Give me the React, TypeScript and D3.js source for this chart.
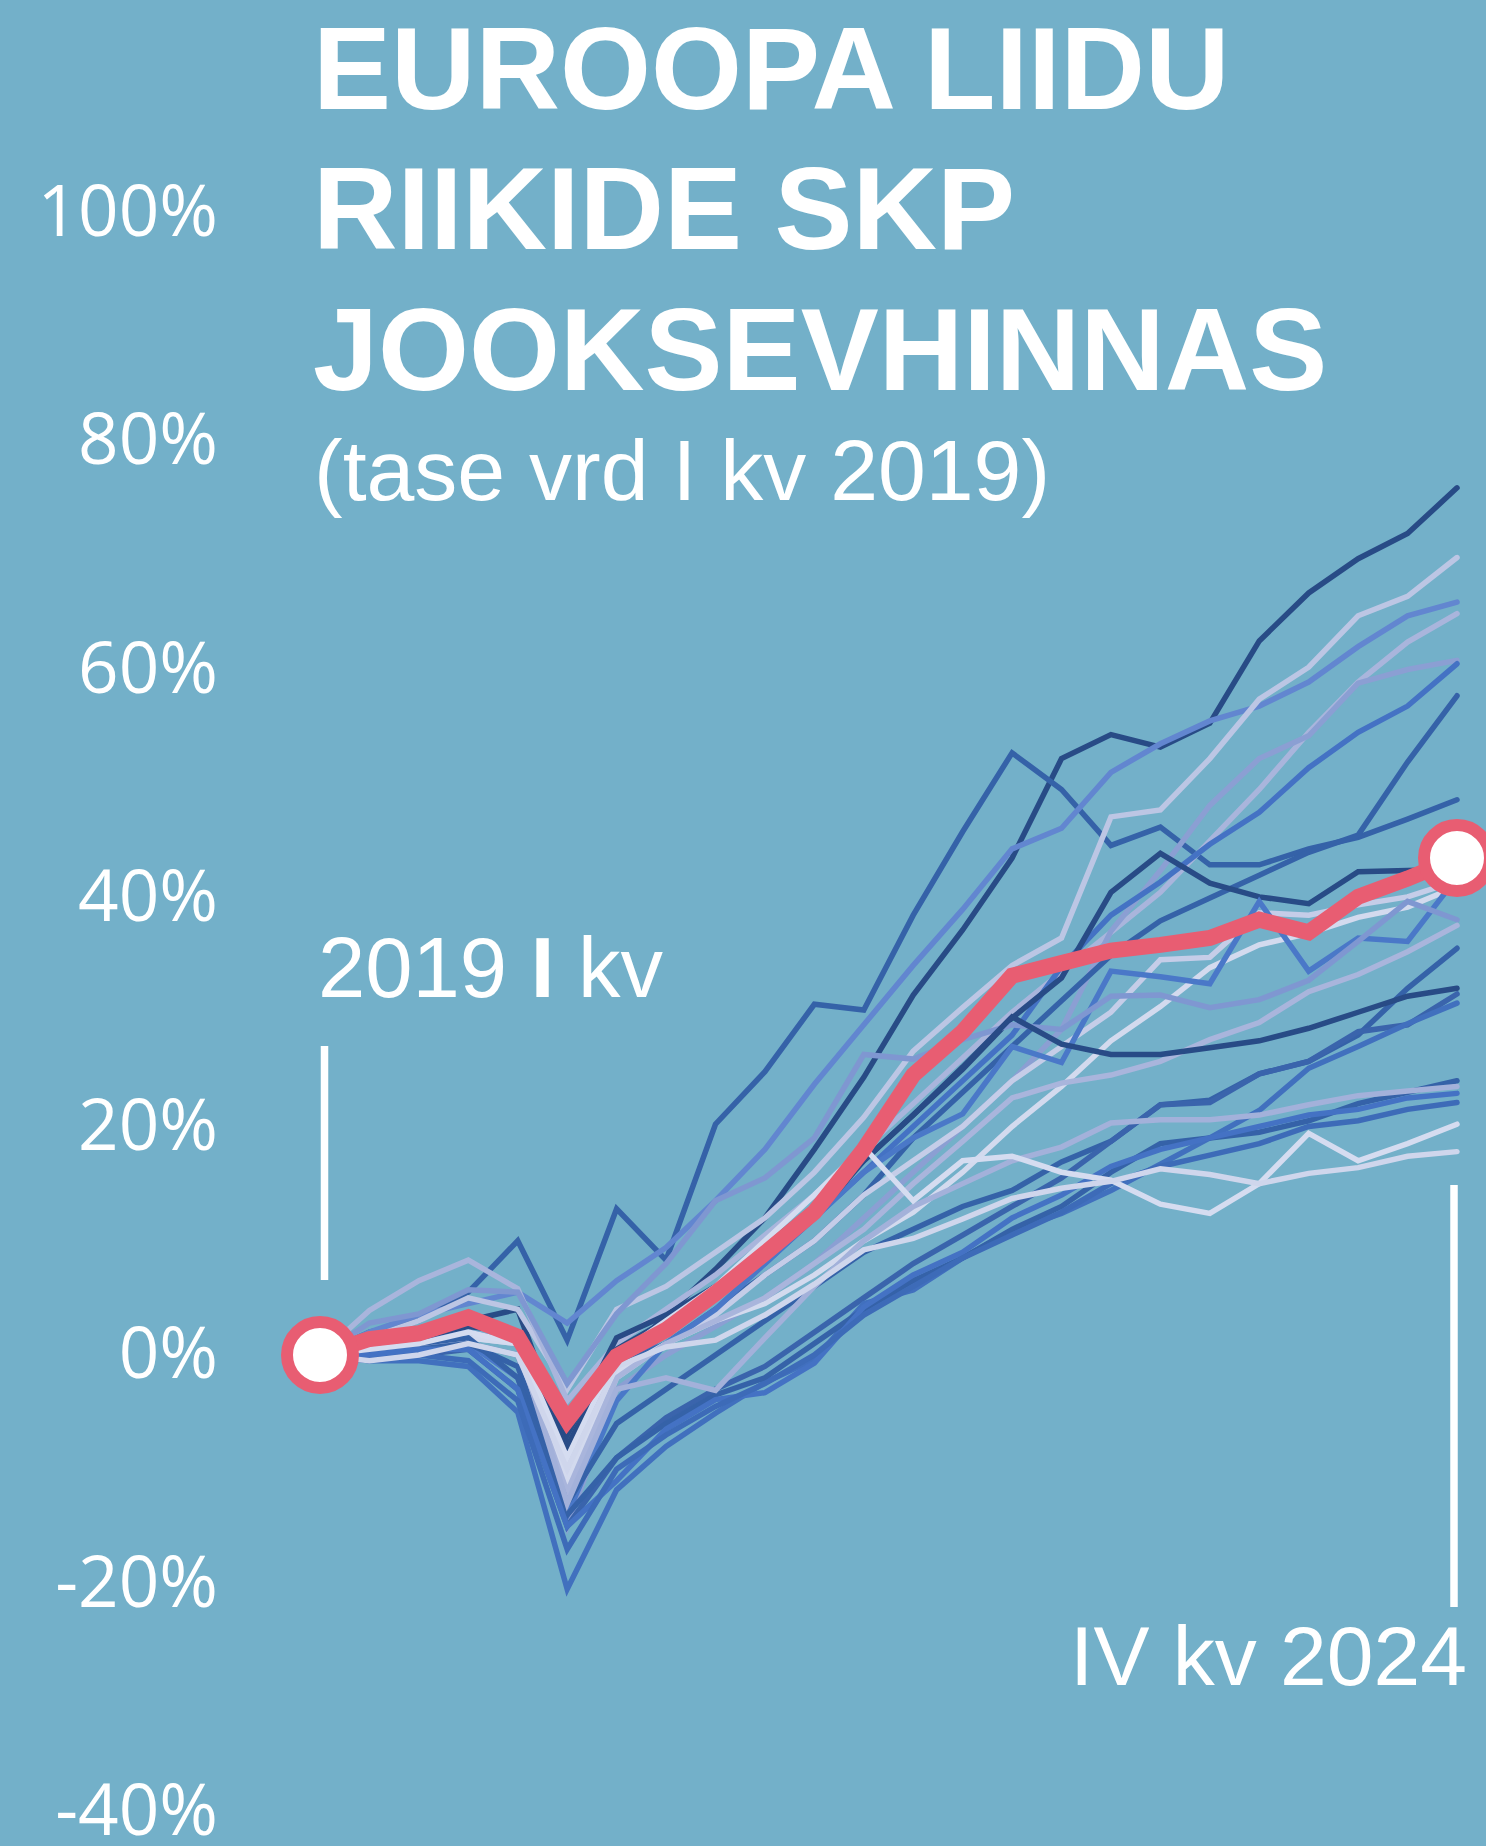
import React from "react";
import * as d3 from "d3";

const quarters: string[] = [
  "2019Q1","2019Q2","2019Q3","2019Q4","2020Q1","2020Q2","2020Q3","2020Q4",
  "2021Q1","2021Q2","2021Q3","2021Q4","2022Q1","2022Q2","2022Q3","2022Q4",
  "2023Q1","2023Q2","2023Q3","2023Q4","2024Q1","2024Q2","2024Q3","2024Q4",
];

const yTicks: number[] = [-40, -20, 0, 20, 40, 60, 80, 100];

// highlighted country
const highlight: number[] = [0, 1.4, 1.9, 3.3, 1.6, -5.7, -0.1, 2.2, 5.4, 8.9, 12.5, 18.0, 24.5, 28.3, 33.2, 34.3, 35.4, 35.9, 36.5, 38.1, 37.0, 40.1, 41.7, 43.5];

// other EU countries
const s01: number[] = [0, 1, 1.5, 3, 4, -8, -1, 3.5, 7.5, 12, 18, 24.3, 31.5, 37.2, 43.5, 52.2, 54.3, 53.2, 55.3, 62.5, 66.7, 69.7, 71.9, 75.9];
const s02: number[] = [0, 2, 3, 5.5, 10, 1.3, 12.8, 8.3, 20.2, 24.8, 30.7, 30.2, 38.5, 45.8, 52.7, 49.5, 44.6, 46.2, 42.9, 42.9, 44.3, 45.3, 46.9, 48.6];
const s03: number[] = [0, 2, 3.5, 4.5, 5.5, 2.8, 6.5, 9.4, 13.5, 18, 23.7, 28.9, 34.1, 39, 44.3, 46.1, 51.0, 53.5, 55.5, 56.8, 58.9, 62.0, 64.7, 65.9];
const s04: number[] = [0, 1.5, 3, 5, 4, -3, 4, 6, 9, 12, 16, 20.8, 26.6, 30.4, 34.1, 36.5, 47.1, 47.7, 52.2, 57.4, 60.2, 64.7, 66.4, 69.8];
const s05: number[] = [0, 3.9, 6.5, 8.3, 5.8, -4, 1, 4, 7, 10.5, 14, 18, 22, 26, 30, 33.5, 37, 40.5, 45.0, 49.5, 54.5, 58.9, 62.4, 64.9];
const s06: number[] = [0, 0, 0.5, 1, -2, -15, -3, 0, 2.5, 5, 8, 12, 16, 20, 24, 28.5, 37.1, 42.4, 48.1, 52.2, 54.2, 58.8, 60.0, 60.8];
const s07: number[] = [0, 1, 1.5, 2, 1, -10, -2, 2, 5, 8, 12, 16, 20, 24, 28, 34, 38.5, 41.4, 44.7, 47.5, 51.4, 54.5, 56.8, 60.5];
const s08: number[] = [0, 0, 0.5, 1, 0, -12, -1, 1, 4, 7, 10, 14, 19, 23, 27, 31, 35, 38, 40, 42, 44, 45.5, 51.9, 57.7];
const s09: number[] = [0, 1, 1.5, 3, 2, -8, 0.5, 3, 6, 9.5, 13, 17, 21, 25, 29.5, 33.0, 40.5, 43.9, 41.3, 40.1, 39.5, 42.3, 42.4, 42.5];
const s10: number[] = [0, 0.5, 1, 1.5, 1, -12, -2, 1, 3.5, 7, 10, 14, 17, 20, 24, 27, 30, 34.6, 34.8, 38.7, 38.5, 39.4, 40.1, 41.5];
const s11: number[] = [0, 0, 0.5, 1.5, 1, -11, -1.5, 1, 3, 4.5, 7, 10, 12.5, 16, 20, 23.5, 27.5, 30.5, 33.9, 35.9, 36.9, 38.3, 39.2, 41.0];
const s12: number[] = [0, 0.3, 0.5, 1, -2, -14, -4, 1, 4, 8, 12, 16, 19, 21.1, 27.0, 25.6, 33.6, 33.1, 32.5, 39.7, 33.6, 36.5, 36.2, 41.8];
const s13: number[] = [0, 2.8, 3.6, 5.7, 5.5, -2.5, 3.6, 8, 13.5, 15.5, 19, 26.3, 25.9, 27.6, 28.9, 28.5, 31.4, 31.5, 30.4, 31.1, 32.8, 36.2, 39.7, 38.1];
const s14: number[] = [0, 0, 0.5, 1, 0, -12, -2, 1, 3, 5, 8, 11, 15, 18.7, 22.5, 23.8, 24.5, 25.7, 27.6, 29.1, 31.8, 33.3, 35.3, 37.6];
const s15: number[] = [0, 0, 0.5, 1, -1, -13, -6, -3, 0, 3, 6, 9, 11, 13, 14.4, 16.9, 18.7, 21.9, 22.3, 24.6, 25.7, 28.0, 32.1, 35.6];
const s16: number[] = [0, 1, 1.5, 2.5, 2, -7, 1.5, 3.5, 6, 9, 12, 17, 21, 25.2, 29.6, 27.2, 26.3, 26.3, 26.9, 27.5, 28.6, 30.0, 31.4, 32.1];
const s17: number[] = [0, 0, 0, 0.5, -3, -15, -9, -5.5, -3, -1, 2, 5, 8, 10.5, 13, 15.5, 18.7, 21.9, 22.1, 24.6, 25.7, 28.3, 28.9, 31.6];
const s18: number[] = [0, -0.5, -0.5, -1, -5, -20.5, -11.8, -8.0, -5.1, -2.4, -0.4, 4.5, 5.7, 8.5, 10.9, 12.4, 14.4, 16.7, 19.0, 21.4, 25.1, 27.0, 29.0, 30.8];
const s19: number[] = [0, 0.5, 1, 1.5, -2, -14, -9, -6, -3.5, -2, 1, 4, 6.5, 8.5, 11, 13, 16, 18.5, 19, 19.5, 20.5, 22, 23, 24];
const s20: number[] = [0, 1, 2, 3, 1, -13, -3, -2, -3.1, 1.5, 6, 10, 13, 15, 17, 18.2, 20.3, 20.6, 20.6, 21.0, 21.9, 22.7, 23.1, 23.5];
const s21: number[] = [0, 0, 0.5, 0.5, -3, -15, -11, -6.5, -3.9, -3.3, -0.7, 4.2, 7, 9, 12, 14, 16.5, 18, 19, 20, 21, 21.5, 22.5, 22.9];
const s22: number[] = [0, -0.5, 0, -0.5, -4, -17, -10, -7, -4.5, -2.5, 0, 3.5, 6, 8.5, 10.5, 12.5, 15, 16.5, 17.5, 18.5, 20, 20.5, 21.5, 22.1];
const s23: number[] = [0, 0.5, 1, 2, 1, -9, 0, 3, 6, 10, 14, 18.2, 13.5, 17.0, 17.4, 16.0, 15.3, 13.2, 12.4, 15.0, 19.4, 17.0, 18.5, 20.2];
const s24: number[] = [0, -0.5, 0, 1, 0, -10, -1, 0.7, 1.3, 3.5, 6.2, 9.2, 10.2, 11.9, 13.7, 14.6, 15.2, 16.3, 15.8, 15.0, 15.9, 16.4, 17.4, 17.8];

const countrySeries: number[][] = [s01, s02, s03, s04, s05, s06, s07, s08, s09, s10, s11, s12, s13, s14, s15, s16, s17, s18, s19, s20, s21, s22, s23, s24];
const countryColors: string[] = [
  "#284b86", "#3562a8", "#6286d0", "#bcc6e4", "#a9b5dc", "#8b9fd3",
  "#4472c4", "#3562a8", "#284b86", "#c5cde8", "#d3daee", "#4a78c8",
  "#7f97d1", "#a9b5dc", "#3562a8", "#284b86", "#3a64ac", "#4170be",
  "#3562a8", "#a3b1da", "#4472c4", "#3d6bb8", "#d5dcf0", "#cfd6ec",
];

const W = 1486;
const H = 1846;
const BG = "#73b0c9";
const RED = "#e85d72";

export default function App() {
  const x = d3.scaleLinear().domain([0, quarters.length - 1]).range([320, 1457]);
  const y = d3.scaleLinear().domain([0, 100]).range([1355, 212.5]);
  const line = d3.line<number>().x((_, i) => x(i)).y((v) => y(v));

  const last = quarters.length - 1;

  return (
    <svg width={W} height={H} style={{ position: "absolute", left: 0, top: 0 }}>
      <rect x={0} y={0} width={W} height={H} fill={BG} />

      {/* y tick labels */}
      {yTicks.map((t) => (
        <text key={t} x={218} y={y(t) + 23} textAnchor="end" fill="#fff"
          fontFamily="'Open Sans', sans-serif" fontSize={71}>
          {t}%
        </text>
      ))}

      {/* title */}
      <g fill="#fff" fontFamily="'Liberation Sans', Arial, sans-serif">
        <text x={313} y={108.5} fontSize={117} fontWeight="bold">EUROOPA LIIDU</text>
        <text x={313} y={249} fontSize={117} fontWeight="bold">RIIKIDE SKP</text>
        <text x={313} y={390} fontSize={117} fontWeight="bold">JOOKSEVHINNAS</text>
        <text x={314} y={499.5} fontSize={86}>(tase vrd I kv 2019)</text>
      </g>

      {/* annotations */}
      <text x={318} y={997} fontSize={85} fill="#fff" fontFamily="'Liberation Sans', Arial, sans-serif">
        2019 <tspan fontWeight="bold">I</tspan> kv
      </text>
      <line x1={324.5} x2={324.5} y1={1046} y2={1280} stroke="#fff" strokeWidth={7.5} />
      <text x={1467} y={1685} fontSize={84} fill="#fff" textAnchor="end"
        fontFamily="'Liberation Sans', Arial, sans-serif">
        IV kv 2024
      </text>
      <line x1={1454} x2={1454} y1={1185} y2={1607} stroke="#fff" strokeWidth={7.5} />

      {/* country lines */}
      {countrySeries.map((s, k) => (
        <path key={k} d={line(s) || ""} fill="none" stroke={countryColors[k]}
          strokeWidth={5.5} strokeLinejoin="miter" strokeLinecap="round" />
      ))}

      {/* highlighted line */}
      <path d={line(highlight) || ""} fill="none" stroke={RED} strokeWidth={16}
        strokeLinejoin="miter" strokeLinecap="round" />
      <circle cx={x(0)} cy={y(highlight[0])} r={33} fill="#fff" stroke={RED} strokeWidth={12} />
      <circle cx={x(last)} cy={y(highlight[last])} r={33} fill="#fff" stroke={RED} strokeWidth={12} />
    </svg>
  );
}
